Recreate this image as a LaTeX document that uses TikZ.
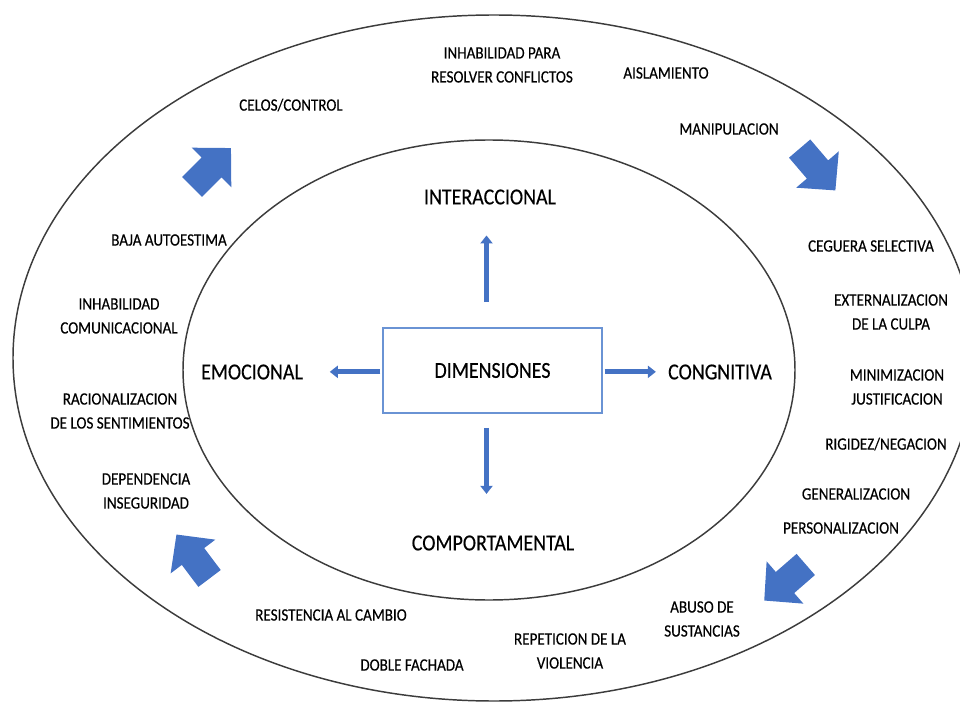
\documentclass[tikz,border=0pt]{standalone}
\usepackage{fontspec}
\setmainfont{Carlito}
\newfontfamily\narrowfont{Carlito}[FakeStretch=0.87, FakeBold=0.3]
\usetikzlibrary{arrows.meta}

\definecolor{officeblue}{HTML}{4472C4}
\definecolor{boxblue}{HTML}{6A93D4}
\definecolor{ringgray}{HTML}{3C3C3C}

\tikzset{
  ring/.style={draw=ringgray, line width=1.1pt},
  dimbox/.style={draw=boxblue, line width=1.1pt, minimum width=164pt, minimum height=64pt, font=\narrowfont\fontsize{17.2}{20}\selectfont},
  dimlabel/.style={font=\narrowfont\fontsize{17.2}{20}\selectfont},
  trait/.style={font=\narrowfont\fontsize{13}{18}\selectfont, align=center},
  dimarrow/.style={draw=officeblue, line width=3.6pt, -{Triangle[width=9pt,length=6pt]}},
  bigarrow/.pic={\fill[officeblue] (-27.5,-14) -- (0,-14) -- (0,-28) -- (27.5,0) -- (0,28) -- (0,14) -- (-27.5,14) -- cycle;}
}

\begin{document}
\begin{tikzpicture}[x=0.75pt, y=-0.75pt]
\tikzstyle{every node}+=[inner sep=0pt]
\useasboundingbox (0,0) rectangle (960,702);
% rings
\draw [ring] (494,358) ellipse [x radius=481, y radius=343];
\draw [ring] (489,370) ellipse [x radius=306, y radius=230];
% centre and the four dimensions
\node [dimbox] (dim) at (492.5,370.5) {DIMENSIONES};
\node [dimlabel] (inter) at (490,197) {INTERACCIONAL};
\node [dimlabel] (comp) at (493,543) {COMPORTAMENTAL};
\node [dimlabel] (emo) at (252,372) {EMOCIONAL};
\node [dimlabel] (cong) at (720,372) {CONGNITIVA};
\draw [dimarrow, shorten <=18.75pt, shorten >=23pt] ([xshift=-4.5pt]dim.north) -- ([xshift=-4.5pt]dim.north |- inter.south);
\draw [dimarrow, shorten <=10.5pt, shorten >=31pt] ([xshift=-4.5pt]dim.south) -- ([xshift=-4.5pt]dim.south |- comp.north);
\draw [dimarrow, shorten <=1.5pt, shorten >=20pt] ([yshift=-1pt]dim.west) -- ([yshift=-1pt]dim.west -| emo.east);
\draw [dimarrow, shorten <=1.5pt, shorten >=9pt] ([yshift=-1pt]dim.east) -- ([yshift=-1pt]dim.east -| cong.west);
% outer ring traits
\node [trait] (conflict) at (502,65) {INHABILIDAD PARA\\RESOLVER CONFLICTOS};
\node [trait] (isolation) at (666,73) {AISLAMIENTO};
\node [trait] (jealousy) at (291,105) {CELOS/CONTROL};
\node [trait] (manip) at (729,129) {MANIPULACION};
\node [trait] (selfesteem) at (169,240) {BAJA AUTOESTIMA};
\node [trait] (blindness) at (871,246) {CEGUERA SELECTIVA};
\node [trait] (commun) at (119,316) {INHABILIDAD\\COMUNICACIONAL};
\node [trait] (blame) at (891,312) {EXTERNALIZACION\\DE LA CULPA};
\node [trait] (ration) at (120,411) {RACIONALIZACION\\DE LOS SENTIMIENTOS};
\node [trait] (minim) at (897,387) {MINIMIZACION\\JUSTIFICACION};
\node [trait] (depend) at (146,491) {DEPENDENCIA\\INSEGURIDAD};
\node [trait] (rigid) at (886,444) {RIGIDEZ/NEGACION};
\node [trait] (general) at (856,494) {GENERALIZACION};
\node [trait] (personal) at (841,528) {PERSONALIZACION};
\node [trait] (abuse) at (702,619) {ABUSO DE\\SUSTANCIAS};
\node [trait] (resist) at (331,615) {RESISTENCIA AL CAMBIO};
\node [trait] (repeat) at (570,651) {REPETICION DE LA\\VIOLENCIA};
\node [trait] (facade) at (412,665) {DOBLE FACHADA};
% cycle arrows
\path (211.5,167.5) pic [rotate=45] {bigarrow};
\path (817.5,169.5) pic [rotate=-49.5] {bigarrow};
\path (785,582.5) pic [rotate=221] {bigarrow};
\path (193,556.5) pic [rotate=127] {bigarrow};
\end{tikzpicture}
\end{document}
